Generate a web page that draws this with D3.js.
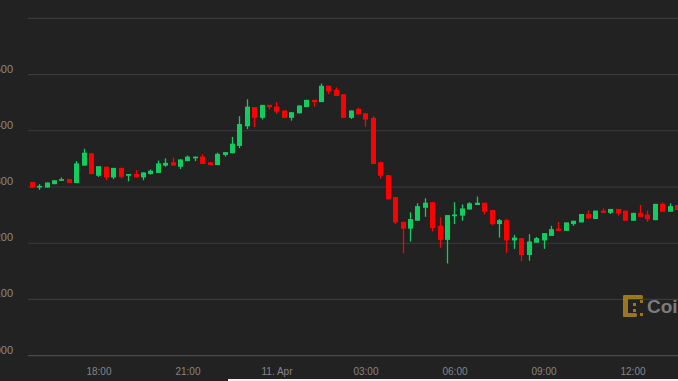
<!DOCTYPE html>
<html>
<head>
<meta charset="utf-8">
<script src="https://cdn.jsdelivr.net/npm/d3@7"></script>
<style>
  html, body { margin: 0; padding: 0; background: #222222; overflow: hidden; }
  svg { display: block; }
</style>
</head>
<body>
<div id="chart"></div>
<script>
// 15 minute candles, 10 Apr 15:45 -> 11 Apr 13:30 (UTC)
const startTime = Date.UTC(2019, 3, 10, 15, 45);
const step = 15 * 60 * 1000;

const open = [
  5309, 5299, 5299, 5305, 5311, 5314, 5307, 5338, 5360, 5320,
  5336, 5317, 5334, 5320, 5323, 5317, 5323, 5325, 5338, 5344,
  5336, 5346, 5351, 5354, 5344, 5339, 5357, 5360, 5373, 5408,
  5442, 5423, 5446, 5443, 5436, 5423, 5431, 5442, 5455, 5451,
  5480, 5473, 5465, 5423, 5439, 5431, 5423, 5344, 5321, 5282,
  5238, 5226, 5240, 5263, 5273, 5231, 5206, 5248, 5249, 5260,
  5268, 5272, 5259, 5234, 5241, 5205, 5209, 5179, 5201, 5205,
  5213, 5226, 5222, 5234, 5237, 5252, 5243, 5258, 5254, 5261,
  5258, 5240, 5254, 5251, 5241, 5270, 5256, 5268
];
const high = [
  5309, 5305, 5308, 5312, 5317, 5314, 5346, 5368, 5360, 5337,
  5336, 5334, 5334, 5323, 5330, 5326, 5331, 5347, 5351, 5352,
  5349, 5356, 5354, 5358, 5344, 5361, 5362, 5389, 5426, 5456,
  5442, 5446, 5446, 5451, 5436, 5433, 5445, 5455, 5455, 5484,
  5480, 5477, 5465, 5436, 5441, 5431, 5426, 5344, 5321, 5282,
  5238, 5255, 5271, 5280, 5273, 5246, 5250, 5273, 5269, 5273,
  5283, 5272, 5259, 5243, 5243, 5215, 5209, 5216, 5211, 5218,
  5231, 5238, 5237, 5240, 5252, 5258, 5258, 5262, 5261, 5261,
  5258, 5254, 5268, 5258, 5270, 5272, 5271, 5268
];
const low = [
  5299, 5295, 5299, 5305, 5311, 5307, 5307, 5338, 5323, 5318,
  5312, 5314, 5315, 5310, 5317, 5312, 5322, 5325, 5336, 5338,
  5332, 5346, 5346, 5341, 5339, 5339, 5354, 5360, 5369, 5403,
  5406, 5420, 5438, 5430, 5423, 5418, 5431, 5442, 5443, 5451,
  5465, 5462, 5423, 5421, 5429, 5407, 5341, 5315, 5278, 5234,
  5182, 5203, 5240, 5247, 5221, 5192, 5164, 5234, 5240, 5260,
  5268, 5251, 5232, 5210, 5183, 5190, 5168, 5169, 5201, 5190,
  5213, 5222, 5222, 5231, 5237, 5244, 5243, 5254, 5252, 5249,
  5240, 5240, 5247, 5238, 5241, 5256, 5256, 5259
];
const close = [
  5299, 5302, 5308, 5312, 5314, 5307, 5342, 5361, 5323, 5337,
  5317, 5334, 5318, 5323, 5317, 5326, 5329, 5342, 5343, 5338,
  5349, 5354, 5354, 5341, 5339, 5359, 5362, 5377, 5412, 5443,
  5423, 5446, 5442, 5434, 5423, 5433, 5445, 5455, 5451, 5480,
  5470, 5462, 5423, 5436, 5429, 5420, 5341, 5320, 5278, 5237,
  5226, 5243, 5266, 5272, 5227, 5206, 5250, 5251, 5262, 5271,
  5272, 5256, 5234, 5241, 5205, 5210, 5179, 5203, 5209, 5218,
  5225, 5222, 5237, 5240, 5252, 5244, 5258, 5254, 5261, 5253,
  5240, 5254, 5247, 5243, 5270, 5256, 5266, 5259
];

// y axis ticks (top one has no label in the original)
const yTicks = [5000, 5100, 5200, 5300, 5400, 5500, 5600];
const yLabelled = [5000, 5100, 5200, 5300, 5400, 5500];

const width = 678, height = 381;
const green = "#12cc5f", red = "#ff0000";

const candles = open.map((o, i) => ({
  t: new Date(startTime + i * step),
  o: o, h: high[i], l: low[i], c: close[i]
}));

const svg = d3.select("#chart")
  .append("svg")
  .attr("width", width)
  .attr("height", height);

svg.append("rect")
  .attr("width", width)
  .attr("height", height)
  .attr("fill", "#222222");

const x = d3.scaleUtc()
  .domain([new Date(startTime - step / 2), new Date(Date.UTC(2019, 3, 11, 13, 32))])
  .range([28, 678]);

const y = d3.scaleLinear()
  .domain([5000, 5600])
  .range([355.7, 18.3]);

// grid lines
svg.append("g")
  .selectAll("line")
  .data(yTicks)
  .join("line")
  .attr("x1", 28)
  .attr("x2", width)
  .attr("y1", d => y(d))
  .attr("y2", d => y(d))
  .attr("stroke", d => d === 5000 ? "#4a4a4a" : "#3b3b3b")
  .attr("stroke-width", 1.2);

// y labels, pushed off the left edge like the original crop
svg.append("g")
  .selectAll("text")
  .data(yLabelled)
  .join("text")
  .attr("x", 13)
  .attr("y", d => y(d) - 2)
  .attr("text-anchor", "end")
  .attr("font-family", "Liberation Sans, Arial, sans-serif")
  .attr("font-size", "11px")
  .attr("fill", "#8a8a8a")
  .text(d => d3.format(",")(d));

// x axis labels
const fmt = d => d.getUTCHours() === 0 ? d3.utcFormat("%-d. %b")(d) : d3.utcFormat("%H:%M")(d);
const xAxis = svg.append("g")
  .attr("transform", "translate(0,355.7)")
  .call(d3.axisBottom(x).ticks(d3.utcHour.every(3)).tickFormat(fmt).tickSize(0).tickPadding(12));
xAxis.select(".domain").remove();
xAxis.selectAll("text")
  .attr("font-family", "Liberation Sans, Arial, sans-serif")
  .attr("font-size", "10px")
  .attr("fill", "#858585");

// candles
const bodyW = 5;
const g = svg.append("g");
candles.forEach(d => {
  const col = d.c >= d.o ? green : red;
  const cx = Math.round(x(d.t)) + 0.5;
  g.append("line")
    .attr("x1", cx)
    .attr("x2", cx)
    .attr("y1", y(d.h))
    .attr("y2", y(d.l))
    .attr("stroke", col)
    .attr("stroke-width", 1.3);
  const top = y(Math.max(d.o, d.c));
  const bot = y(Math.min(d.o, d.c));
  g.append("rect")
    .attr("x", cx - bodyW / 2)
    .attr("y", top)
    .attr("width", bodyW)
    .attr("height", Math.max(1.5, bot - top))
    .attr("fill", col);
});

// watermark logo (cut off at the right edge)
const logo = svg.append("g").attr("opacity", 0.75);
const gold = "#c4931f";
logo.append("rect").attr("x", 623).attr("y", 295).attr("width", 20).attr("height", 4).attr("rx", 1.5).attr("fill", gold);
logo.append("rect").attr("x", 623).attr("y", 295).attr("width", 5).attr("height", 22).attr("rx", 1.5).attr("fill", gold);
logo.append("rect").attr("x", 623).attr("y", 313).attr("width", 14).attr("height", 4).attr("rx", 1.5).attr("fill", gold);
logo.append("rect").attr("x", 640).attr("y", 300).attr("width", 3).attr("height", 3).attr("fill", gold);
logo.append("rect").attr("x", 633).attr("y", 303).attr("width", 3).attr("height", 3).attr("fill", gold);
logo.append("rect").attr("x", 633).attr("y", 309).attr("width", 3).attr("height", 3).attr("fill", gold);
logo.append("rect").attr("x", 640).attr("y", 313).attr("width", 3).attr("height", 3).attr("fill", gold);
logo.append("text")
  .attr("x", 647)
  .attr("y", 313)
  .attr("font-family", "Liberation Sans, Arial, sans-serif")
  .attr("font-weight", "bold")
  .attr("font-size", "19px")
  .attr("fill", "#9a9a9a")
  .text("CoinDesk");

// white strip from the page below
svg.append("rect")
  .attr("x", 228)
  .attr("y", 379)
  .attr("width", 450)
  .attr("height", 2)
  .attr("fill", "#f2f2f2");
</script>
</body>
</html>
